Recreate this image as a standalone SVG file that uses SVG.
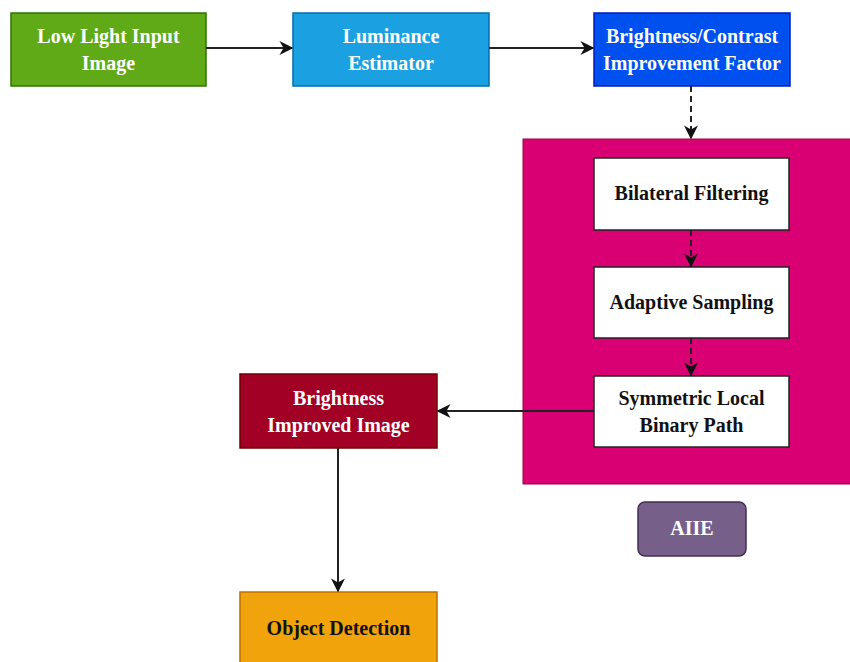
<svg xmlns="http://www.w3.org/2000/svg" width="850" height="662" viewBox="0 0 850 662">
<style>
text{font-family:'Liberation Serif','DejaVu Serif',serif;font-weight:bold;font-size:20px;text-anchor:middle}
.w{fill:#ffffff}
.k{fill:#111111}
.c{stroke:#222;stroke-width:2;fill:none}
.d{stroke:#222;stroke-width:2;fill:none;stroke-dasharray:6 4}
</style>
<defs>
<marker id="ah2" viewBox="0 0 10 10" refX="9" refY="5" markerWidth="14" markerHeight="14" orient="auto" markerUnits="userSpaceOnUse">
<path d="M0,0 L10,5 L0,10 L3,5 Z" fill="#111"/>
</marker>
</defs>
<rect width="850" height="662" fill="#ffffff"/>
<g id="aiie-container">
<rect x="523" y="139" width="330" height="345" fill="#d80073" stroke="#a50040" stroke-width="1"/>
</g>
<g id="low-light">
<rect x="11" y="13" width="195" height="73" fill="#60a917" stroke="#2d7600" stroke-width="1.5"/>
<text class="w" x="108.5" y="43" font-family="Liberation Serif, serif">Low Light Input</text>
<text class="w" x="108.5" y="70" font-family="Liberation Serif, serif">Image</text>
</g>
<g id="luminance">
<rect x="293" y="13" width="196" height="73" fill="#1ba1e2" stroke="#006eaf" stroke-width="1.5"/>
<text class="w" x="391" y="43" font-family="Liberation Serif, serif">Luminance</text>
<text class="w" x="391" y="70" font-family="Liberation Serif, serif">Estimator</text>
</g>
<g id="factor">
<rect x="594" y="13" width="196" height="73" fill="#0050ef" stroke="#001dbc" stroke-width="1.5"/>
<text class="w" x="692" y="43" font-family="Liberation Serif, serif">Brightness/Contrast</text>
<text class="w" x="692" y="70" font-family="Liberation Serif, serif">Improvement Factor</text>
</g>
<g id="bilateral">
<rect x="594" y="158" width="195" height="72" fill="#ffffff" stroke="#222" stroke-width="1.5"/>
<text class="k" x="691.5" y="200" font-family="Liberation Serif, serif">Bilateral Filtering</text>
</g>
<g id="adaptive">
<rect x="594" y="267" width="195" height="71" fill="#ffffff" stroke="#222" stroke-width="1.5"/>
<text class="k" x="691.5" y="309" font-family="Liberation Serif, serif">Adaptive Sampling</text>
</g>
<g id="symmetric">
<rect x="594" y="376" width="195" height="71" fill="#ffffff" stroke="#222" stroke-width="1.5"/>
<text class="k" x="691.5" y="405" font-family="Liberation Serif, serif">Symmetric Local</text>
<text class="k" x="691.5" y="432" font-family="Liberation Serif, serif">Binary Path</text>
</g>
<g id="improved">
<rect x="240" y="374" width="197" height="74" fill="#a20025" stroke="#6f0000" stroke-width="1.5"/>
<text class="w" x="338.5" y="405" font-family="Liberation Serif, serif">Brightness</text>
<text class="w" x="338.5" y="432" font-family="Liberation Serif, serif">Improved Image</text>
</g>
<g id="detection">
<rect x="240" y="592" width="197" height="72" fill="#f0a30a" stroke="#bd7000" stroke-width="1.5"/>
<text class="k" x="338.5" y="635" font-family="Liberation Serif, serif">Object Detection</text>
</g>
<g id="aiie">
<rect x="638" y="502" width="108" height="54" rx="7" fill="#76608a" stroke="#432d57" stroke-width="1.5"/>
<text class="w" x="692" y="535" font-family="Liberation Serif, serif">AIIE</text>
</g>
<g id="connectors">
<line class="c" x1="206" y1="48" x2="292" y2="48" marker-end="url(#ah2)"/>
<line class="c" x1="489" y1="48" x2="593" y2="48" marker-end="url(#ah2)"/>
<line class="d" x1="691" y1="86" x2="691" y2="138" marker-end="url(#ah2)"/>
<line class="d" x1="691" y1="230" x2="691" y2="266" marker-end="url(#ah2)"/>
<line class="d" x1="691" y1="338" x2="691" y2="375" marker-end="url(#ah2)"/>
<line class="c" x1="594" y1="411" x2="438" y2="411" marker-end="url(#ah2)"/>
<line class="c" x1="338" y1="448" x2="338" y2="591" marker-end="url(#ah2)"/>
</g>
</svg>
